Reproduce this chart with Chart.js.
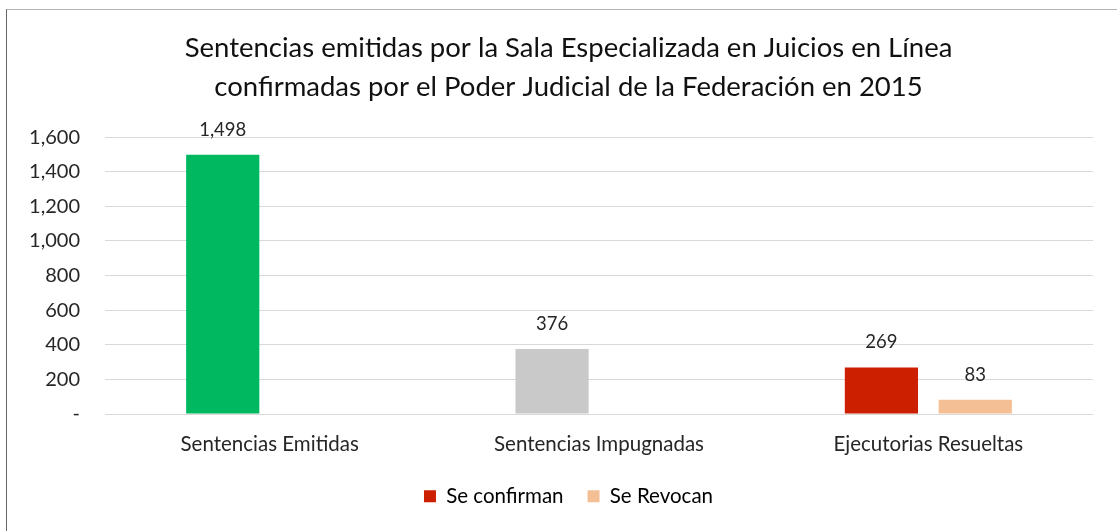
<!DOCTYPE html>
<html>
<head>
<meta charset="utf-8">
<script src="https://cdn.jsdelivr.net/npm/chart.js@4/dist/chart.umd.min.js"></script>
<style>
  html, body { margin: 0; padding: 0; background: #fff; }
  #wrap { position: relative; width: 1117px; height: 531px; }
  #frame { position: absolute; left: 6px; top: 9px; right: -2px; bottom: -2px;
           border-left: 1px solid #666; border-top: 1px solid #b5b5b5; }
  canvas { position: absolute; left: 0; top: 0; }
</style>
</head>
<body>
<div id="wrap">
  <div id="frame"></div>
  <canvas id="chart" width="1117" height="531"></canvas>
</div>
<script>
// datos
const categorias = ['Sentencias Emitidas', 'Sentencias Impugnadas', 'Ejecutorias Resueltas'];
const seConfirman = [1498, 376, 269];
const seRevocan = [null, null, 83];
const coloresConfirman = ['#00B860', '#C9C9C9', '#CC1F00'];
const colorRevocan = '#F5BF95';
const ticksY = [0, 200, 400, 600, 800, 1000, 1200, 1400, 1600];

const fuente = 'Lato, "Liberation Sans", sans-serif';

// Formato con comas, 0 se muestra como "-"
function formato(v) {
  if (v === 0) return '-';
  return v.toLocaleString('en-US');
}

// Etiquetas de valor sobre cada barra
const etiquetas = {
  id: 'etiquetas',
  afterDatasetsDraw(chart) {
    const ctx = chart.ctx;
    ctx.save();
    ctx.font = '18.5px ' + fuente;
    ctx.fillStyle = '#262626';
    ctx.textAlign = 'center';
    ctx.textBaseline = 'middle';
    chart.data.datasets.forEach((ds, i) => {
      const meta = chart.getDatasetMeta(i);
      meta.data.forEach((bar, j) => {
        const v = ds.data[j];
        if (v === null || v === undefined) return;
        ctx.fillText(formato(v), bar.x, bar.y - 25);
      });
    });
    ctx.restore();
  }
};

const ctx = document.getElementById('chart').getContext('2d');
new Chart(ctx, {
  type: 'bar',
  data: {
    labels: categorias,
    datasets: [
      { label: 'Se confirman', data: seConfirman, backgroundColor: coloresConfirman },
      { label: 'Se Revocan', data: seRevocan, backgroundColor: colorRevocan }
    ]
  },
  options: {
    responsive: false,
    animation: false,
    categoryPercentage: 0.57,
    barPercentage: 0.78,
    layout: { padding: { left: 20, right: 0, top: 10, bottom: 14.5 } },
    plugins: {
      title: {
        display: true,
        text: ['Sentencias emitidas por la Sala Especializada en Juicios en Línea',
               'confirmadas por el Poder Judicial de la Federación en 2015'],
        color: '#111',
        font: { family: fuente, size: 27.5, weight: 'normal', lineHeight: 1.42 },
        padding: { top: 18.5, bottom: 30.5 }
      },
      legend: {
        position: 'bottom',
        labels: {
          color: '#262626',
          font: { family: fuente, size: 20.5 },
          boxWidth: 12,
          boxHeight: 12,
          padding: 24,
          generateLabels: () => [
            { text: 'Se confirman', fillStyle: coloresConfirman[2], strokeStyle: coloresConfirman[2], lineWidth: 0, datasetIndex: 0 },
            { text: 'Se Revocan', fillStyle: colorRevocan, strokeStyle: colorRevocan, lineWidth: 0, datasetIndex: 1 }
          ]
        }
      },
      tooltip: { enabled: false }
    },
    scales: {
      x: {
        grid: { display: false },
        border: { display: false },
        ticks: { color: '#262626', font: { family: fuente, size: 20.5 }, padding: 10 },
        afterFit: (s) => { s.height = 48; }
      },
      y: {
        min: 0,
        max: 1600,
        afterBuildTicks: (s) => { s.ticks = ticksY.map(v => ({ value: v })); },
        grid: { color: '#D9D9D9', lineWidth: 1, drawTicks: false },
        border: { display: false },
        ticks: {
          color: '#262626',
          font: { family: fuente, size: 20 },
          padding: 25,
          callback: (v) => formato(v)
        },
        afterFit: (s) => { s.width = 85; }
      },
      // eje derecho vacío, solo reserva el margen
      margen: {
        position: 'right',
        grid: { display: false },
        border: { display: false },
        ticks: { display: false },
        afterFit: (s) => { s.width = 24; }
      }
    }
  },
  plugins: [etiquetas]
});
</script>
</body>
</html>
